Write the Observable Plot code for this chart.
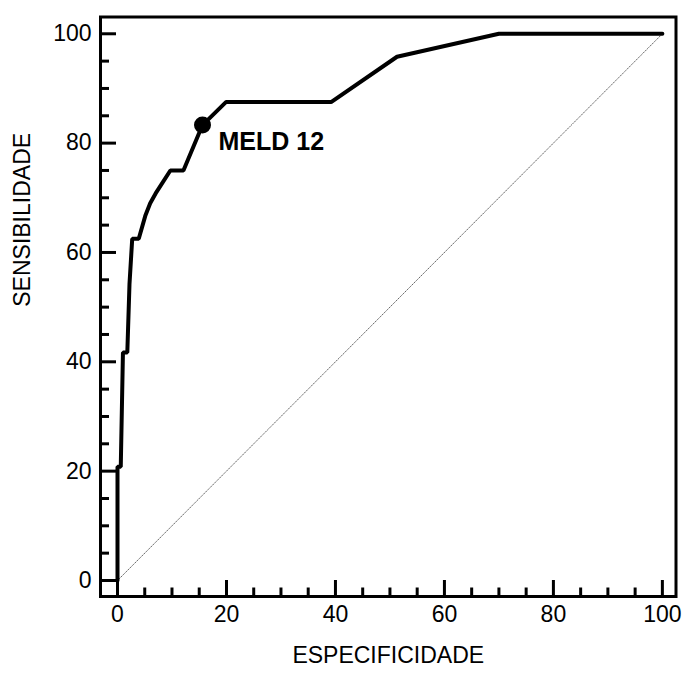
<!DOCTYPE html>
<html>
<head>
<meta charset="utf-8">
<script src="https://cdn.jsdelivr.net/npm/d3@7"></script>
<script src="https://cdn.jsdelivr.net/npm/@observablehq/plot@0.6"></script>
<style>
  html, body { margin: 0; padding: 0; background: #fff; }
  #chart svg { display: block; font-family: "Liberation Sans", Arial, Helvetica, sans-serif; background: #fff; }
</style>
</head>
<body>
<div id="chart"></div>
<script>
// ROC curve: 100 - especificidade (x) vs sensibilidade (y)
const especificidade = [0, 0, 0.6, 1.0, 1.8, 2.2, 2.7, 3.9, 5.1, 6.0, 7.0, 9.7, 12.1, 15.6, 19.9, 39.2, 51.3, 70.0, 100];
const sensibilidade  = [0, 20.8, 20.8, 41.7, 41.7, 54.2, 62.5, 62.5, 66.7, 69.0, 70.8, 75.0, 75.0, 83.3, 87.5, 87.5, 95.8, 100, 100];
const cutoffLabel = "MELD 12";
const cutoffX = 15.6;
const cutoffY = 83.3;
const majorTicks = [0, 20, 40, 60, 80, 100];
const minorTicks = [5, 10, 15, 25, 30, 35, 45, 50, 55, 65, 70, 75, 85, 90, 95];
const diagonal = [[0, 0], [100, 100]];

const curve = especificidade.map((x, i) => ({x, y: sensibilidade[i]}));

const W = 682, H = 674;
const mL = 100, mR = 6.5, mT = 16.5, mB = 78;
const xDom = [-3.12, 102.5], yDom = [-2.93, 103.07];
const pw = W - mL - mR, ph = H - mT - mB;
// tick lengths expressed in data units (pixel length / pixels-per-unit)
const kx = pw / (xDom[1] - xDom[0]), ky = ph / (yDom[1] - yDom[0]);
const bottomTicks = [
  ...majorTicks.map(v => ({v, len: 16})),
  ...minorTicks.map(v => ({v, len: 8.5}))
];
const leftTicks = [
  ...majorTicks.map(v => ({v, len: 16})),
  ...minorTicks.map(v => ({v, len: 9}))
];

const chart = Plot.plot({
  width: W,
  height: H,
  marginLeft: mL,
  marginRight: mR,
  marginTop: mT,
  marginBottom: mB,
  x: {domain: xDom},
  y: {domain: yDom},
  marks: [
    // diagonal reference
    Plot.line(diagonal, {x: d => d[0], y: d => d[1], stroke: "#666", strokeWidth: 1, strokeDasharray: "1,1.5"}),
    // tick labels
    Plot.axisX(majorTicks, {anchor: "bottom", tickSize: 0, tickPadding: 9, fontSize: 23, fill: "black", label: null}),
    Plot.axisY(majorTicks, {anchor: "left", tickSize: 0, tickPadding: 9, fontSize: 23, fill: "black", label: null}),
    // frame
    Plot.frame({stroke: "black", strokeWidth: 3}),
    // ROC curve
    Plot.line(curve, {x: "x", y: "y", stroke: "black", strokeWidth: 4, strokeLinejoin: "miter", strokeLinecap: "round"}),
    Plot.dot([{x: cutoffX, y: cutoffY}], {x: "x", y: "y", r: 8.5, fill: "black"}),
    Plot.text([{x: cutoffX, y: cutoffY}], {x: "x", y: "y", text: () => cutoffLabel, textAnchor: "start", dx: 16, dy: 17, fontSize: 25, fontWeight: "bold", fill: "black"}),
    // axis titles
    Plot.text(["ESPECIFICIDADE"], {frameAnchor: "bottom", text: d => d, dy: 66, fontSize: 23, fill: "black"}),
    Plot.text(["SENSIBILIDADE"], {frameAnchor: "left", text: d => d, rotate: -90, dx: -78, fontSize: 23, fill: "black"}),
    // inward ticks, drawn last
    Plot.ruleX(bottomTicks, {x: "v", y1: yDom[0], y2: d => yDom[0] + d.len / ky, stroke: "black", strokeWidth: 3}),
    Plot.ruleY(leftTicks, {y: "v", x1: xDom[0], x2: d => xDom[0] + d.len / kx, stroke: "black", strokeWidth: 3})
  ]
});
document.getElementById("chart").appendChild(chart);
</script>
</body>
</html>
